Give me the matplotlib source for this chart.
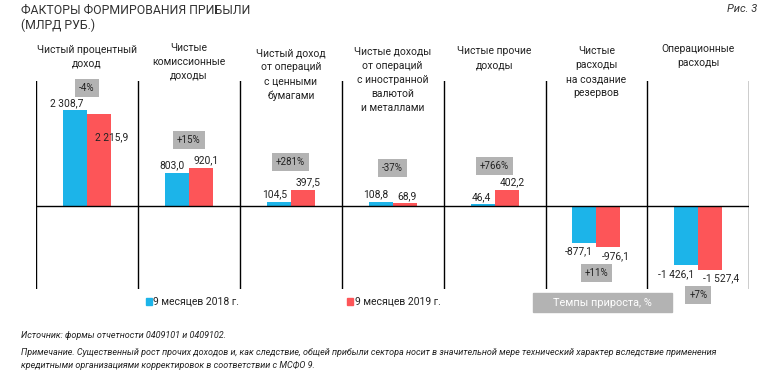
import matplotlib
matplotlib.use("Agg")
import matplotlib.pyplot as plt
from matplotlib.transforms import blended_transform_factory

plt.rcParams['font.family'] = ['Roboto', 'DejaVu Sans']

# ---------------- data ----------------
categories = [
    "Чистый процентный\nдоход",
    "Чистые\nкомиссионные\nдоходы",
    "Чистый доход\nот операций\nс ценными\nбумагами",
    "Чистые доходы\nот операций\nс иностранной\nвалютой\nи металлами",
    "Чистые прочие\nдоходы",
    "Чистые\nрасходы\nна создание\nрезервов",
    "Операционные\nрасходы",
]
values_2018 = [2308.7, 803.0, 104.5, 108.8, 46.4, -877.1, -1426.1]
values_2019 = [2215.9, 920.1, 397.5, 68.9, 402.2, -976.1, -1527.4]
growth_labels = ["-4%", "+15%", "+281%", "-37%", "+766%", "+11%", "+7%"]
series_names = ["9 месяцев 2018 г.", "9 месяцев 2019 г."]

title = "ФАКТОРЫ ФОРМИРОВАНИЯ ПРИБЫЛИ"
subtitle = "(МЛРД РУБ.)"
fig_label = "Рис. 3"
growth_legend = "Темпы прироста, %"
note_source = "Источник: формы отчетности 0409101 и 0409102."
note_text = ("Примечание. Существенный рост прочих доходов и, как следствие, общей прибыли сектора носит в значительной мере технический характер вследствие применения\n"
             "кредитными организациями корректировок в соответствии с МСФО 9.")

# ---------------- style ----------------
BLUE = "#1cb4e9"
RED = "#fd5558"
GRAY = "#b3b3b3"
TXT = "#222222"

W, H = 777, 384
fig = plt.figure(figsize=(W / 100, H / 100), dpi=100)

def fx(px):
    return px / W

def fy(py):
    return 1 - py / H

# axes placement in pixels
x0, x1 = 36, 749.3
ytop, ybot = 81, 289
ax = fig.add_axes([fx(x0), fy(ybot), fx(x1 - x0), (ybot - ytop) / H])
ax.set_xlim(-0.5, len(categories) - 0.5)
ax.set_ylim(-1993, 3019)
ax.axis("off")

n = len(categories)
bw = 0.2355
xs = list(range(n))
ax.bar([x - bw / 2 for x in xs], values_2018, width=bw, color=BLUE, zorder=2)
ax.bar([x + bw / 2 for x in xs], values_2019, width=bw, color=RED, zorder=2)

# grid lines
for b in [i - 0.5 for i in range(n + 1)]:
    ax.axvline(b, color="black", lw=1.0, zorder=3)
ax.axhline(0, color="black", lw=1.0, zorder=3)

def fmt(v):
    s = f"{abs(v):,.1f}".replace(",", " ").replace(".", ",")
    return ("-" if v < 0 else "") + s

lab_fs = 7.4
for i in range(n):
    # 2018: right-aligned just inside the bar's right edge
    v = values_2018[i]
    yoff = 7.5 if v >= 0 else -9
    ax.annotate(fmt(v), (i, v), xytext=(-4, yoff), textcoords="offset pixels",
                ha="right", va="center", fontsize=lab_fs, color=TXT, zorder=5)
    # 2019: left-aligned just inside the bar's left edge
    v = values_2019[i]
    xoff, yoff = 5, (7.5 if v >= 0 else -9)
    if i == 0:
        xoff, yoff = 8, -23
    ax.annotate(fmt(v), (i, v), xytext=(xoff, yoff), textcoords="offset pixels",
                ha="left", va="center", fontsize=lab_fs, color=TXT, zorder=5)

# growth boxes (pixel y centres)
box_y_px = [88, 140, 162, 168, 166, 273, 295]
tr = blended_transform_factory(ax.transData, fig.transFigure)
for i in range(n):
    ax.text(i, fy(box_y_px[i]), growth_labels[i], transform=tr, ha="center", va="center",
            fontsize=7.0, color=TXT, zorder=6,
            bbox=dict(boxstyle="square,pad=0.4", fc=GRAY, ec="none"))

# category headers
cat_top_px = [51, 49, 54, 53, 52, 52, 50]
for i in range(n):
    ax.text(i, fy(cat_top_px[i] - 6), categories[i], transform=tr, ha="center", va="top",
            fontsize=7.5, color=TXT, linespacing=1.5, zorder=6)

# titles
fig.text(fx(21), fy(10), title, ha="left", va="center", fontsize=8.8, color="#333333")
fig.text(fx(21), fy(25), subtitle, ha="left", va="center", fontsize=8.8, color="#333333")
fig.text(fx(757), fy(9), fig_label, ha="right", va="center", fontsize=8, style="italic", color="#333333")

# legend
for (sqx, tx, col, name) in [(146, 153, BLUE, series_names[0]), (347, 355, RED, series_names[1])]:
    fig.patches.append(plt.Rectangle((fx(sqx), fy(305)), fx(6), 7 / H, transform=fig.transFigure,
                                     color=col, figure=fig))
    fig.text(fx(tx), fy(302), name, ha="left", va="center", fontsize=7.5, color=TXT)

fig.patches.append(plt.Rectangle((fx(533), fy(312)), fx(672 - 533), 19 / H,
                                 transform=fig.transFigure, color=GRAY, figure=fig))
fig.text(fx(602.5), fy(302.5), growth_legend, ha="center", va="center", fontsize=7.8, color="white")

# notes
fig.text(fx(21), fy(335), note_source, ha="left", va="center", fontsize=6.5, style="italic", color=TXT)
fig.text(fx(21), fy(348), note_text, ha="left", va="top", fontsize=6.5, style="italic",
         color=TXT, linespacing=1.55)

fig.savefig("out.png", dpi=100)
